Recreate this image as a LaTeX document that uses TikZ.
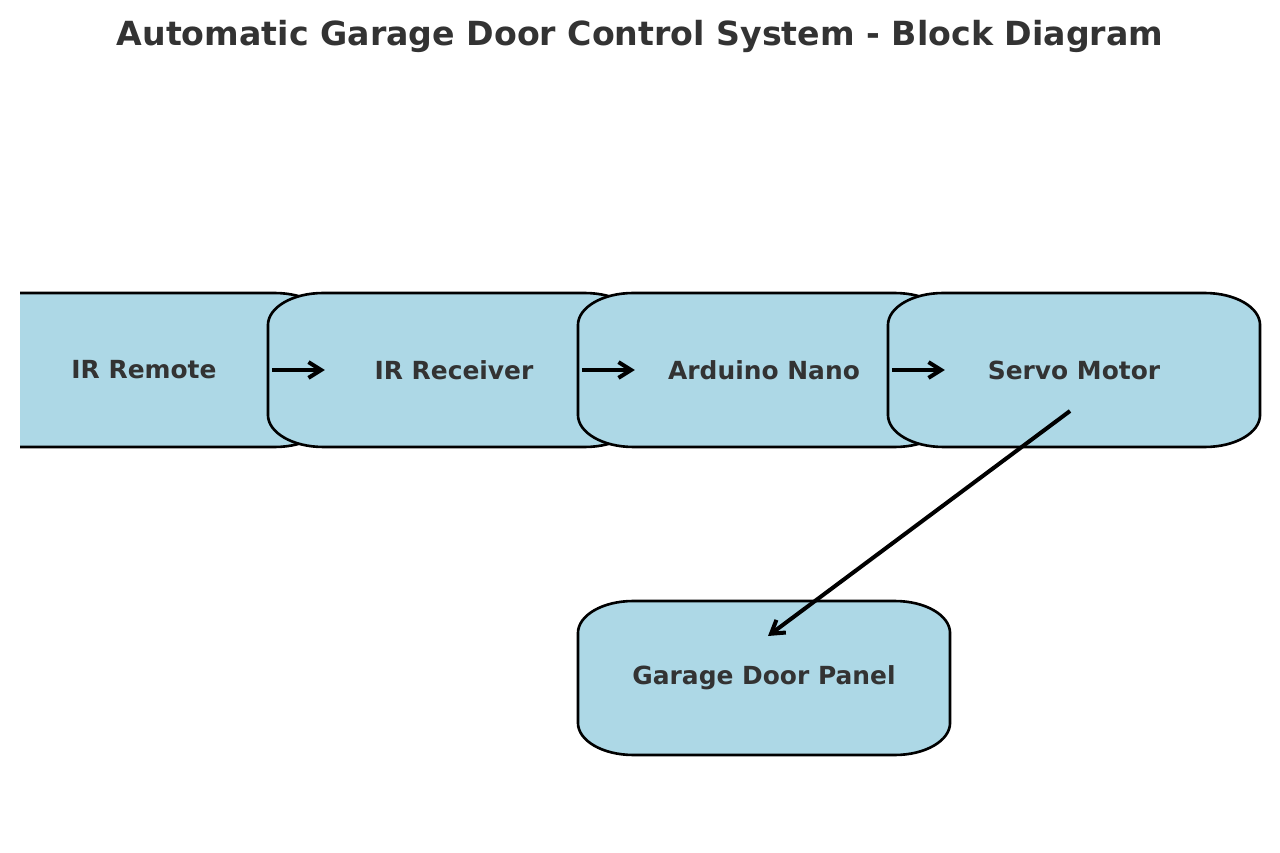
\documentclass[tikz,border=0pt]{standalone}
\usepackage{fontspec}
\setmainfont{DejaVu Sans}
\usetikzlibrary{arrows.meta,calc}
\pgfdeclarelayer{background}
\pgfsetlayers{background,main}
\definecolor{boxblue}{HTML}{ADD8E6}
\definecolor{textgray}{HTML}{333333}

\newcommand\roundframe[1]{%
  \begin{pgfonlayer}{background}
  \begin{scope}
  \clip (20,0) rectangle (1280,852);
  \filldraw [blockframe] ($(#1.north west)+(55,0)$) -- ($(#1.north east)+(-55,0)$)
    arc [start angle=90, end angle=0, x radius=13.97mm, y radius=8.13mm]
    -- ($(#1.south east)+(0,32)$)
    arc [start angle=0, end angle=-90, x radius=13.97mm, y radius=8.13mm]
    -- ($(#1.south west)+(55,0)$)
    arc [start angle=270, end angle=180, x radius=13.97mm, y radius=8.13mm]
    -- ($(#1.north west)+(0,-32)$)
    arc [start angle=180, end angle=90, x radius=13.97mm, y radius=8.13mm]
    -- cycle;
  \end{scope}
  \end{pgfonlayer}}

\begin{document}
\begin{tikzpicture}[x=0.254mm, y=0.254mm, >={Straight Barb[length=3.2mm,width=4mm]},
  block/.style={minimum width=94.5mm, minimum height=39.1mm, inner sep=0pt, outer sep=0pt,
    text=textgray, font=\bfseries\fontsize{18}{22}\selectfont},
  blockframe/.style={fill=boxblue, draw=black, line width=1.9pt},
  flowarrow/.style={->, line width=2.9pt}]
\useasboundingbox (0,0) rectangle (1280,852);
\node (title) at (640,816) [text=textgray, font=\bfseries\fontsize{24}{29}\selectfont]
  {Automatic Garage Door Control System - Block Diagram};
\node   (remote) at (144,482) [block] {IR Remote};
\node (receiver) at (454,482) [block] {IR Receiver};
\node  (arduino) at (764,482) [block] {Arduino Nano};
\node    (servo) at (1074,482) [block] {Servo Motor};
\node   (garage) at (764,174) [block] {Garage Door Panel};
\roundframe{remote}
\roundframe{receiver}
\roundframe{arduino}
\roundframe{servo}
\roundframe{garage}
\draw [flowarrow, shorten <=32.5mm, shorten >=32.8mm] (remote.center) -- (receiver.center);
\draw [flowarrow, shorten <=32.5mm, shorten >=32.8mm] (receiver.center) -- (arduino.center);
\draw [flowarrow, shorten <=32.5mm, shorten >=32.8mm] (arduino.center) -- (servo.center);
\draw [flowarrow] ($(servo.center)+(-4,-41)$) -- ($(garage.center)+(4,42)$);
\end{tikzpicture}
\end{document}
